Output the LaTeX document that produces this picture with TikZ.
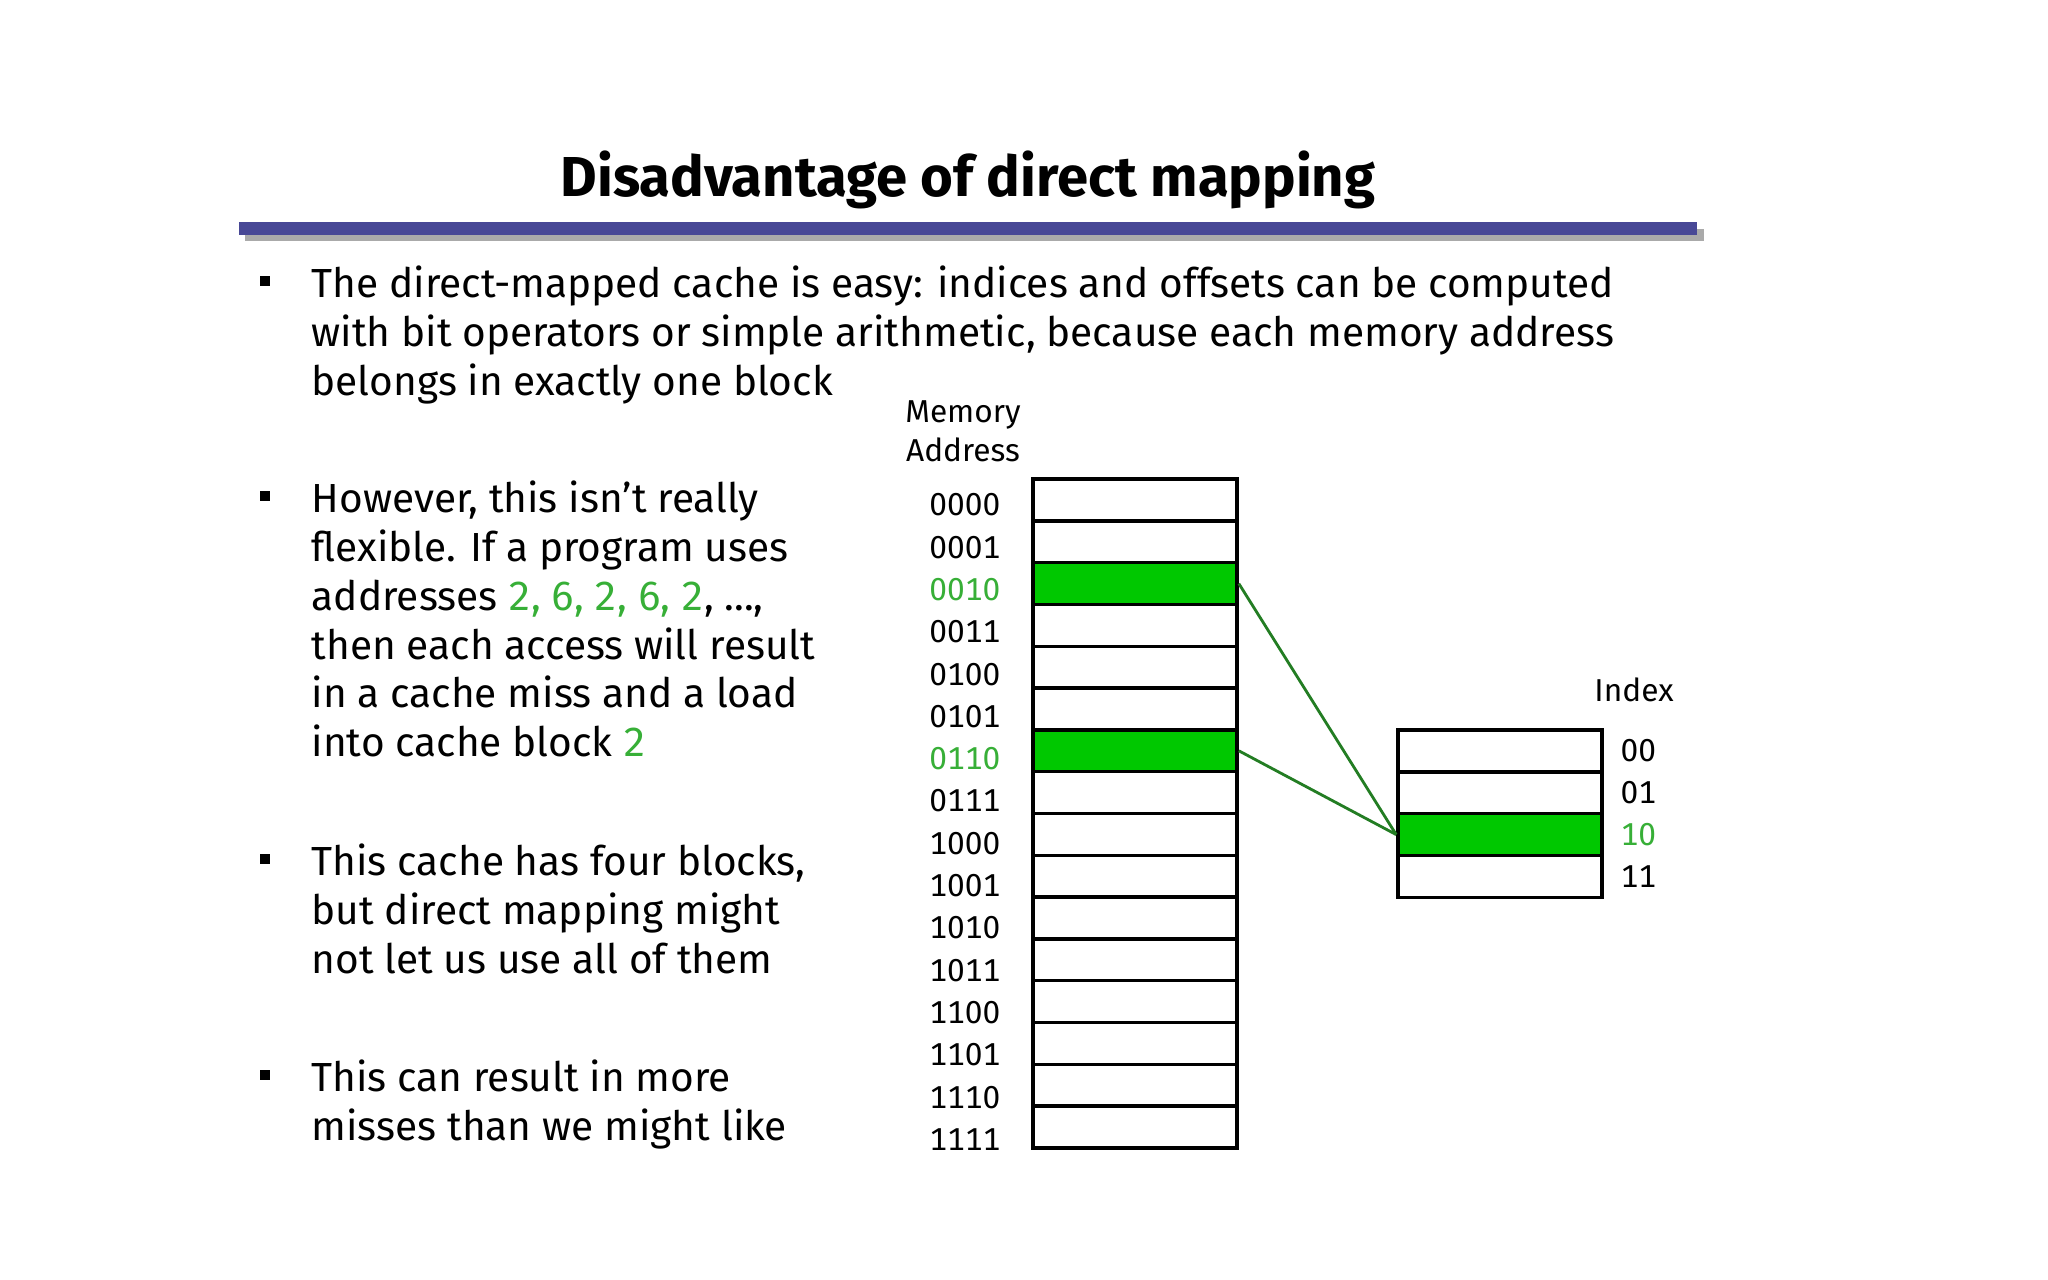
\documentclass[tikz,border=0pt]{standalone}
\usepackage{fontspec}
\setmainfont[Numbers=Monospaced]{Fira Sans}
\usetikzlibrary{positioning}
\definecolor{barblue}{RGB}{72,72,150}
\definecolor{bargray}{RGB}{170,170,170}
\definecolor{cellgreen}{RGB}{0,200,0}
\definecolor{linkgreen}{RGB}{35,125,35}
\definecolor{textgreen}{RGB}{55,175,55}
\begin{document}
\begin{tikzpicture}[
  x=0.01cm, y=-0.01cm,
  para/.style={anchor=north west, align=left, inner sep=0, font=\fontsize{11.55}{13.9}\selectfont},
  sq/.style={fill=black, minimum size=0.1cm, inner sep=0},
  cell/.style={draw, line width=1pt, fill=white, minimum width=2.04cm, minimum height=0.418cm, inner sep=0},
  hot/.style={cell, fill=cellgreen},
  cell lab/.style={inner sep=0, font=\fontsize{9}{11}\selectfont},
  hot lab/.style={cell lab, text=textgreen},
  link/.style={draw=linkgreen, line width=0.8pt}
]
\useasboundingbox (0,0) rectangle (2048,1280);
\fill[white] (0,0) rectangle (2048,1280);

% title and rule
\node[font=\fontsize{16}{19}\selectfont\bfseries] (title) at (968,180) {Disadvantage of direct mapping};
\fill[bargray] (245,229) rectangle (1704,241);
\fill[barblue] (239,222) rectangle (1697,235);

% bullet points
\node[sq] (s1) at (265,281) {};
\node[para] (b1) at (311,265) {The direct-mapped cache is easy: indices and offsets can be computed\\with bit operators or simple arithmetic, because each memory address\\belongs in exactly one block};
\node[sq] (s2) at (265,496) {};
\node[para] (b2) at (311,480) {However, this isn’t really\\flexible. If a program uses\\addresses \textcolor{textgreen}{2, 6, 2, 6, 2}, ...,\\then each access will result\\in a cache miss and a load\\into cache block \textcolor{textgreen}{2}};
\node[sq] (s3) at (265,859) {};
\node[para] (b3) at (311,843) {This cache has four blocks,\\but direct mapping might\\not let us use all of them};
\node[sq] (s4) at (265,1075) {};
\node[para] (b4) at (311,1059) {This can result in more\\misses than we might like};

% memory
\node[cell lab, align=center] (memtitle) at (963,431) {Memory\\Address};
\foreach \i/\lab/\kind in {0/0000/cell, 1/0001/cell, 2/0010/hot, 3/0011/cell,
  4/0100/cell, 5/0101/cell, 6/0110/hot, 7/0111/cell,
  8/1000/cell, 9/1001/cell, 10/1010/cell, 11/1011/cell,
  12/1100/cell, 13/1101/cell, 14/1110/cell, 15/1111/cell}
{
  \node[\kind] (m\i) at (1135,{500+41.8*\i}) {};
  \node[\kind\space lab, anchor=east] (a\i) at (1001,{505+42.3*\i}) {\lab};
}

% cache
\node[cell lab] (idxtitle) at (1634,690) {Index};
\foreach \i/\lab/\kind in {0/00/cell, 1/01/cell, 2/10/hot, 3/11/cell}
{
  \node[\kind] (c\i) at (1500,{751+41.8*\i}) {};
  \node[\kind\space lab, right=0.16cm of c\i] (i\i) {\lab};
}

\draw[link] (m2.east) -- (c2.west);
\draw[link] (m6.east) -- (c2.west);
\end{tikzpicture}
\end{document}
